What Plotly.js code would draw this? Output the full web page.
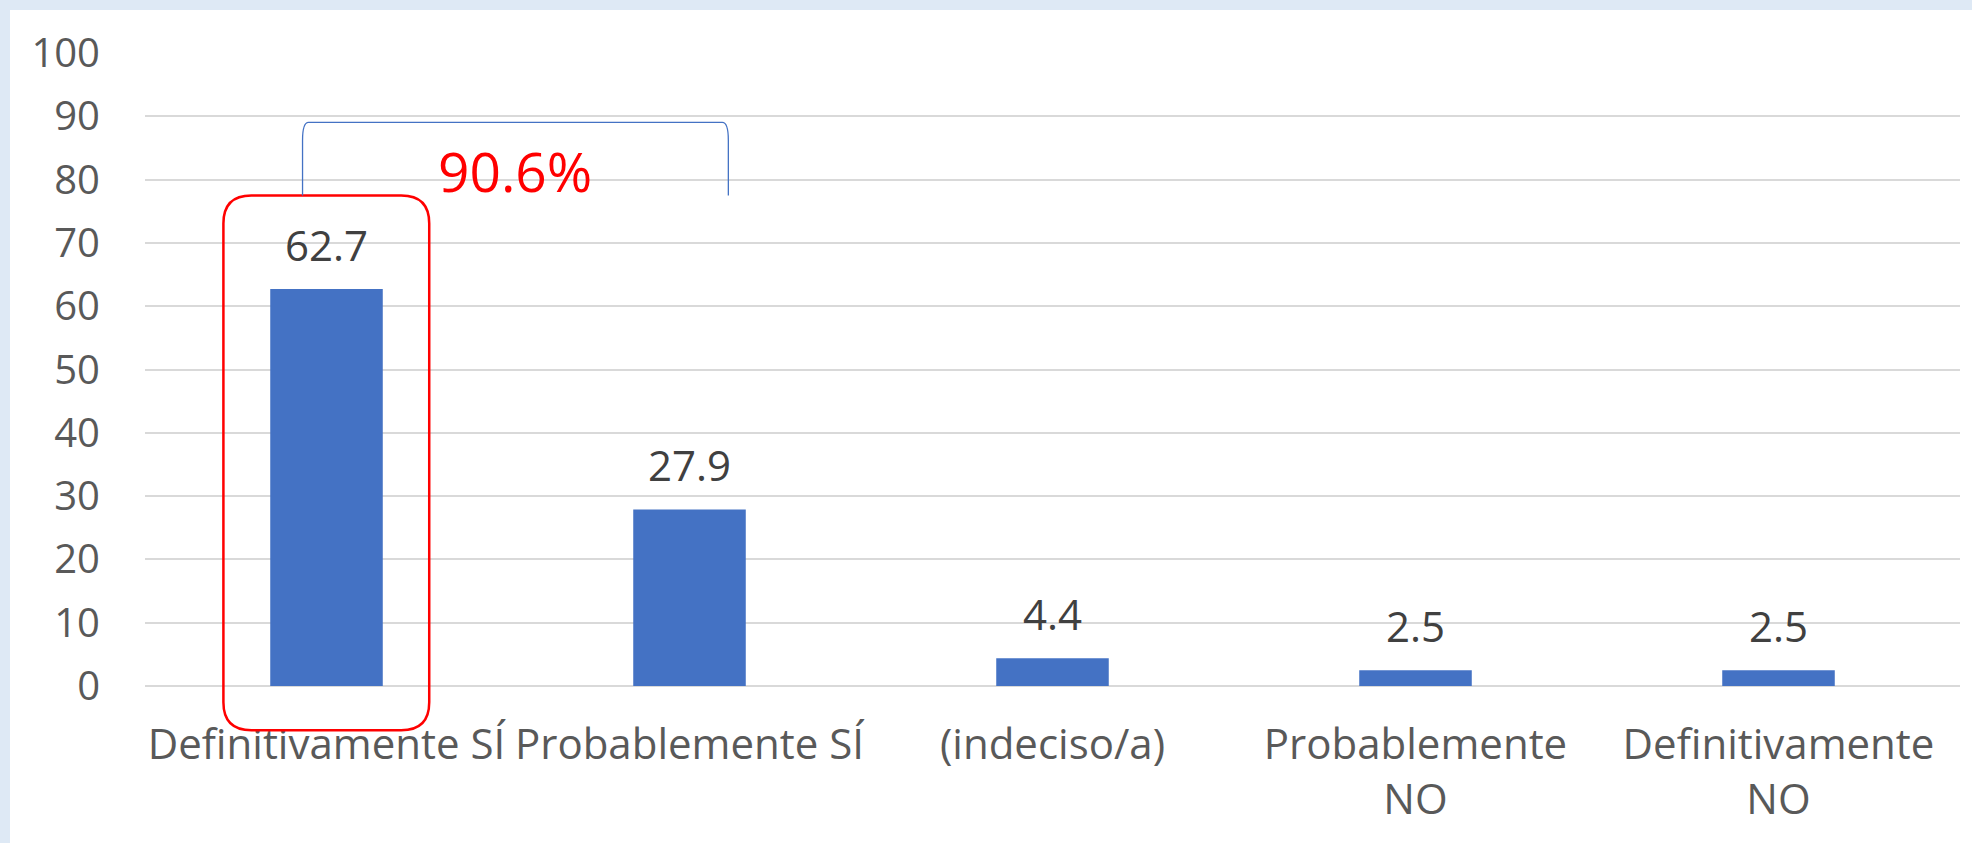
<!DOCTYPE html>
<html>
<head>
<meta charset="utf-8">
<script src="https://cdn.plot.ly/plotly-3.0.1.min.js"></script>
<style>
  html, body { margin: 0; padding: 0; background: #DEE9F5; width: 1972px; height: 843px; overflow: hidden; }
  #chart { position: absolute; left: 10px; top: 10px; width: 1962px; height: 833px; background: #fff; }
</style>
</head>
<body>
<div id="chart"></div>
<script>
const categories = ["Definitivamente SÍ", "Probablemente SÍ", "(indeciso/a)", "Probablemente<br>NO", "Definitivamente<br>NO"];
const values = [62.7, 27.9, 4.4, 2.5, 2.5];
const valueLabels = ["62.7", "27.9", "4.4", "2.5", "2.5"];
const yTicks = [0, 10, 20, 30, 40, 50, 60, 70, 80, 90, 100];
const combinedLabel = "90.6%";

const W = 1962, H = 833;
const margin = { l: 135, r: 12, t: 43, b: 157, pad: 0 };
const plotW = W - margin.l - margin.r;
const plotH = H - margin.t - margin.b;
const nCat = categories.length;
const yMax = 100;

// helpers mapping category index / value to paper coordinates
const px = i => (i + 0.5) / nCat;
const py = v => v / yMax;
const dxPx = p => p / plotW;
const dyPx = p => p / plotH;

const trace = {
  type: 'bar',
  x: categories,
  y: values,
  marker: { color: '#4472C4' },
  width: 0.31,
  hoverinfo: 'none'
};

const annotations = values.map((v, i) => ({
  x: categories[i], y: v, xref: 'x', yref: 'y',
  text: valueLabels[i], showarrow: false,
  yanchor: 'bottom', yshift: 14,
  font: { family: 'Open Sans', size: 42, color: '#404040' }
}));

annotations.push({
  x: px(0.519), y: py(81.5), xref: 'paper', yref: 'paper',
  text: combinedLabel, showarrow: false,
  xanchor: 'center', yanchor: 'middle',
  font: { family: 'Open Sans', size: 55, color: '#FF0000' }
});

// rounded rectangle around first bar
const rx0 = px(-0.284), rx1 = px(0.283), ry0 = py(-7.0), ry1 = py(77.5);
const rrx = dxPx(28), rry = dyPx(28);
const rectPath = `M ${rx0 + rrx},${ry1} L ${rx1 - rrx},${ry1} Q ${rx1},${ry1} ${rx1},${ry1 - rry} ` +
  `L ${rx1},${ry0 + rry} Q ${rx1},${ry0} ${rx1 - rrx},${ry0} L ${rx0 + rrx},${ry0} ` +
  `Q ${rx0},${ry0} ${rx0},${ry0 + rry} L ${rx0},${ry1 - rry} Q ${rx0},${ry1} ${rx0 + rrx},${ry1} Z`;

// bracket over first two bars
const bx0 = px(-0.066), bx1 = px(1.107), byTop = py(89.05), byBot = py(77.5);
const bcx = dxPx(6), bcy = dyPx(18);
const bracketPath = `M ${bx0},${byBot} L ${bx0},${byTop - bcy} Q ${bx0},${byTop} ${bx0 + bcx},${byTop} ` +
  `L ${bx1 - bcx},${byTop} Q ${bx1},${byTop} ${bx1},${byTop - bcy} L ${bx1},${byBot}`;

const shapes = [
  { type: 'path', xref: 'paper', yref: 'paper', path: rectPath, line: { color: '#FF0000', width: 2.5 }, fillcolor: 'rgba(0,0,0,0)' },
  { type: 'path', xref: 'paper', yref: 'paper', path: bracketPath, line: { color: '#4472C4', width: 1.3 }, fillcolor: 'rgba(0,0,0,0)' }
];

const layout = {
  width: W, height: H,
  margin: margin,
  paper_bgcolor: '#FFFFFF',
  plot_bgcolor: '#FFFFFF',
  showlegend: false,
  xaxis: {
    type: 'category',
    tickfont: { family: 'Open Sans', size: 42, color: '#595959' },
    ticks: '', showline: false, showgrid: false, zeroline: false,
    ticklabelstandoff: 30,
    fixedrange: true
  },
  yaxis: {
    range: [0, yMax],
    tickvals: yTicks,
    ticktext: yTicks.map(String),
    tickfont: { family: 'Open Sans', size: 40, color: '#595959' },
    ticks: '', showline: false,
    gridcolor: '#D9D9D9', gridwidth: 2,
    zeroline: true, zerolinecolor: '#D9D9D9', zerolinewidth: 2,
    ticklabelstandoff: 44,
    fixedrange: true
  },
  annotations: annotations,
  shapes: shapes
};

Plotly.newPlot('chart', [trace], layout, { displayModeBar: false, staticPlot: true });
</script>
</body>
</html>
